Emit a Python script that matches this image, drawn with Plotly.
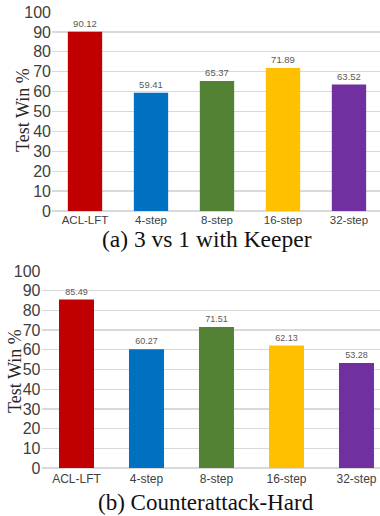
import plotly.graph_objects as go

categories = ["ACL-LFT", "4-step", "8-step", "16-step", "32-step"]
values_a = [90.12, 59.41, 65.37, 71.89, 63.52]
values_b = [85.49, 60.27, 71.51, 62.13, 53.28]
colors = ["#C00000", "#0070C0", "#548235", "#FFC000", "#7030A0"]
y_ticks = [0, 10, 20, 30, 40, 50, 60, 70, 80, 90, 100]
caption_a = "(a) 3 vs 1 with Keeper"
caption_b = "(b) Counterattack-Hard"
y_title = "Test Win %"

W, H = 380, 516

fig = go.Figure()
fig.add_trace(go.Bar(
    x=categories, y=values_a, marker=dict(color=colors, line=dict(width=0)),
    text=[f"{v:.2f}" for v in values_a], textposition="outside",
    textfont=dict(family="Liberation Sans, Arial, sans-serif", size=9.5, color="#595959"),
    cliponaxis=False, xaxis="x", yaxis="y", showlegend=False, width=0.52,
))
fig.add_trace(go.Bar(
    x=categories, y=values_b, marker=dict(color=colors, line=dict(width=0)),
    text=[f"{v:.2f}" for v in values_b], textposition="outside",
    textfont=dict(family="Liberation Sans, Arial, sans-serif", size=9, color="#595959"),
    cliponaxis=False, xaxis="x2", yaxis="y2", showlegend=False, width=0.5,
))

grid = "#d9d9d9"
tickfont_y = dict(family="Liberation Sans, Arial, sans-serif", size=16, color="#404040")

def yaxis(dom, anchor):
    return dict(domain=dom, anchor=anchor, range=[0, 100.5], tickvals=y_ticks,
                showgrid=True, gridcolor=grid, gridwidth=1.3, zeroline=True,
                zerolinecolor=grid, zerolinewidth=1.5, showline=False,
                tickfont=tickfont_y, ticks="", fixedrange=True, automargin=False)

fig.update_layout(
    width=W, height=H,
    margin=dict(l=0, r=0, t=0, b=0),
    paper_bgcolor="white", plot_bgcolor="white",
    xaxis=dict(domain=[52 / W, 1.0], anchor="y", range=[-0.5, 4.47],
               tickfont=dict(family="Liberation Sans, Arial, sans-serif", size=11.5, color="#404040"),
               showline=False, showgrid=False, ticks="", automargin=False, fixedrange=True),
    yaxis=yaxis([1 - 211 / H, 1 - 11 / H], "x"),
    xaxis2=dict(domain=[41.5 / W, 1.0], anchor="y2", range=[-0.5, 4.336],
                tickfont=dict(family="Liberation Sans, Arial, sans-serif", size=12, color="#404040"),
                showline=False, showgrid=False, ticks="", automargin=False, fixedrange=True,
                ticklabelstandoff=2),
    yaxis2=yaxis([1 - 468 / H, 1 - 270 / H], "x2"),
    annotations=[
        dict(text=y_title, x=23 / W, y=1 - 110 / H, xref="paper", yref="paper",
             textangle=-90, showarrow=False, xanchor="center", yanchor="middle",
             font=dict(family="Liberation Serif, Times New Roman, serif", size=18, color="#262626")),
        dict(text=y_title, x=15 / W, y=1 - 371 / H, xref="paper", yref="paper",
             textangle=-90, showarrow=False, xanchor="center", yanchor="middle",
             font=dict(family="Liberation Serif, Times New Roman, serif", size=18, color="#262626")),
        dict(text=caption_a, x=206.5 / W, y=1 - 239 / H, xref="paper", yref="paper",
             showarrow=False, xanchor="center", yanchor="middle",
             font=dict(family="Liberation Serif, Times New Roman, serif", size=23.5, color="#111111")),
        dict(text=caption_b, x=206 / W, y=1 - 502.5 / H, xref="paper", yref="paper",
             showarrow=False, xanchor="center", yanchor="middle",
             font=dict(family="Liberation Serif, Times New Roman, serif", size=23, color="#111111")),
    ],
)

fig.write_html("out.html", config={"displayModeBar": False, "staticPlot": True},
               post_script="document.body.style.margin='0';document.body.style.overflow='hidden';")
